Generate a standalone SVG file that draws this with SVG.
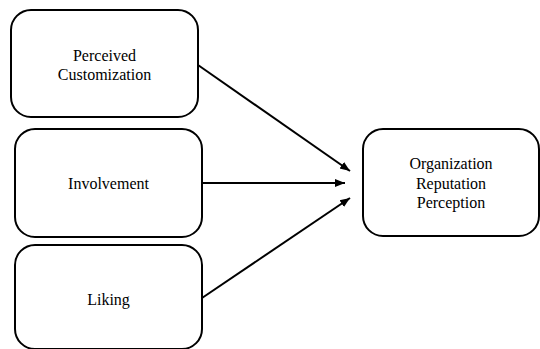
<svg xmlns="http://www.w3.org/2000/svg" width="540" height="349" viewBox="0 0 540 349">
<style>
.box{fill:#fff;stroke:#000;stroke-width:2}
.t{font-family:'Liberation Serif','Times New Roman',serif;font-size:16px;fill:#000;text-anchor:middle}
.c{stroke:#000;stroke-width:2;fill:none}
</style>
<defs>
<marker id="ah" viewBox="0 0 10 10" refX="10" refY="5" markerWidth="5" markerHeight="5" orient="auto" markerUnits="strokeWidth">
<path d="M0,1 L10,5 L0,9 z" fill="#000"/>
</marker>
</defs>
<rect width="540" height="349" fill="#fff"/>
<g id="n1"><rect class="box" x="11" y="10" width="187" height="107" rx="20"/>
<text class="t" x="104.5" y="61">Perceived</text><text class="t" x="104.5" y="80">Customization</text></g>
<g id="n2"><rect class="box" x="15" y="129" width="187" height="108" rx="20"/>
<text class="t" x="108.5" y="189">Involvement</text></g>
<g id="n3"><rect class="box" x="15" y="245" width="187" height="104" rx="20"/>
<text class="t" x="108.5" y="305">Liking</text></g>
<g id="n4"><rect class="box" x="363" y="129" width="176" height="107" rx="20"/>
<text class="t" x="451" y="169">Organization</text><text class="t" x="451" y="189">Reputation</text><text class="t" x="451" y="208">Perception</text></g>
<g id="connectors">
<line class="c" x1="198" y1="65" x2="350" y2="171" marker-end="url(#ah)"/>
<line class="c" x1="202" y1="183" x2="345" y2="183" marker-end="url(#ah)"/>
<line class="c" x1="202" y1="298" x2="350" y2="198" marker-end="url(#ah)"/>
</g>
</svg>
